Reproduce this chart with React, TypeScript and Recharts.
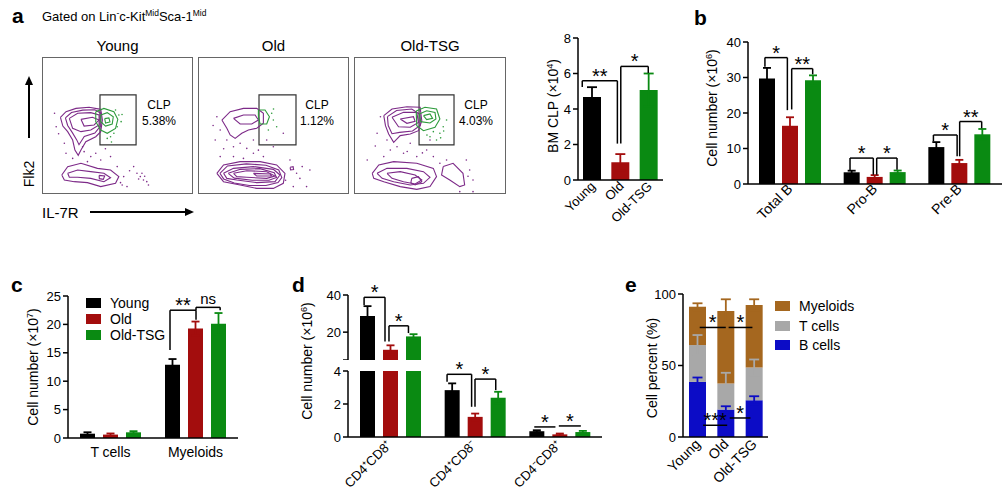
import React from "react";
import {
  ComposedChart,
  ScatterChart,
  Scatter,
  Bar,
  Cell,
  ErrorBar,
  XAxis,
  YAxis,
  ReferenceLine,
  ReferenceArea,
} from "recharts";

const FONT = '"Liberation Sans", Arial, Helvetica, sans-serif';
const BLACK = "#000000";
const RED = "#a30d0d";
const GREEN = "#0a8a12";
const BROWN = "#a5671f";
const GRAY = "#a8a8a8";
const BLUE = "#0c0cc6";
const PURPLE = "#7d2a88";
const LIGHT_GREEN = "#2e9b3c";

// a) BM CLP (x10^4)
const GROUPS = ["Young", "Old", "Old-TSG"];
const CLP_MEAN = [4.68, 1.0, 5.07];
const CLP_ERR = [0.55, 0.46, 0.93];

// b) B cell subsets (x10^6)
const B_CATS = ["Total B", "Pro-B", "Pre-B"];
const B_YOUNG = [29.7, 3.3, 10.4];
const B_YOUNG_ERR = [3.0, 0.45, 1.4];
const B_OLD = [16.4, 2.0, 5.9];
const B_OLD_ERR = [2.4, 0.5, 0.9];
const B_TSG = [29.2, 3.35, 14.0];
const B_TSG_ERR = [1.4, 0.45, 1.5];

// c) T cells / myeloids (x10^7)
const C_CATS = ["T cells", "Myeloids"];
const C_YOUNG = [0.76, 12.9];
const C_YOUNG_ERR = [0.25, 1.0];
const C_OLD = [0.6, 19.3];
const C_OLD_ERR = [0.2, 1.2];
const C_TSG = [1.0, 20.1];
const C_TSG_ERR = [0.2, 1.9];

// d) thymocytes (x10^6), broken axis
const D_CATS = ["CD4⁺CD8⁺", "CD4⁺CD8⁻", "CD4⁻CD8⁺"];
const D_YOUNG = [28.7, 2.84, 0.35];
const D_YOUNG_ERR = [5.3, 0.41, 0.06];
const D_OLD = [10.5, 1.22, 0.16];
const D_OLD_ERR = [2.4, 0.2, 0.05];
const D_TSG = [17.7, 2.38, 0.3];
const D_TSG_ERR = [1.2, 0.36, 0.07];

// e) cell percent (stacked)
const E_B = [38.5, 19.2, 25.7];
const E_B_ERR = [3.1, 2.3, 2.8];
const E_T = [25.8, 18.2, 22.9];
const E_T_ERR = [7.0, 7.5, 5.6];
const E_M = [26.8, 50.7, 43.7];
const E_M_ERR = [2.4, 8.2, 4.0];

// flow plots, 0..100 on both axes (IL-7R x, Flk2 y)
const Y_CONT = [
  [[12.2, 56], [15.9, 60.1], [22.5, 62.5], [31.2, 63.3], [38.9, 61.8], [40, 54], [38.9, 45.5], [35.6, 41.8], [29, 38.2], [25.8, 32.1], [24, 28.2], [21.8, 32.1], [20.3, 39.4], [17, 45.5], [13.8, 49.6]],
  [[15.5, 55.5], [19.5, 59.5], [27, 61.2], [35, 61.5], [39, 59], [39, 50], [35, 44.5], [28, 42], [24.5, 36], [23, 39.5], [20, 45], [17, 50]],
  [[18.1, 55.2], [23.6, 58.9], [32.3, 59.4], [37.8, 57.7], [37.8, 50.4], [32.3, 46.7], [25.8, 45.5], [20.3, 47.9]],
  [[25.8, 54.5], [33.4, 56], [37.8, 54], [34.5, 50.4], [27.9, 49.6]],
  [[13.1, 13.9], [17, 19.9], [25.8, 22.4], [36.7, 18.7], [45.4, 17.5], [50.9, 12.7], [48.7, 7.8], [38.9, 5.4], [30.1, 8.3], [21.4, 9], [14.8, 10.2]],
  [[17, 15.1], [23.6, 17.5], [32.3, 16.3], [41, 15.1], [45.4, 11.9], [41, 9], [32.3, 11.4], [23.6, 12.2], [18.1, 12.2]],
  [[37.8, 13.6], [41.5, 13.1], [40.6, 10.7], [38, 11.2]],
];
const Y_GCONT = [
  [[35.6, 60.1], [41, 62.5], [47.6, 60.1], [50.2, 54.5], [48.7, 47.9], [43.2, 44.3], [38.9, 46.7], [35.6, 52.8]],
  [[38.9, 57.7], [43.2, 59.4], [47.2, 56.4], [46.5, 51.1], [42.1, 49.6], [38.9, 52.8]],
  [[41.5, 55], [44.3, 55.5], [45, 52.6], [42.1, 51.8]],
];
const Y_DOTS = [[15.9, 29.7], [27.9, 30.9], [32.3, 27.3], [35.6, 29.7], [38.9, 24.8], [30.1, 23.6], [20.3, 26], [45.4, 27.3], [49.8, 20], [54.1, 12.7], [53.1, 6.6], [60.7, 20], [62.9, 15.1], [65.1, 12.7], [67.2, 10.2], [69.4, 9], [66.2, 15.1], [70.5, 6.6], [8.3, 58.9], [9.4, 49.1], [14.8, 37], [52, 8.3], [56.3, 5.4], [26.9, 34.5], [64, 11], [68, 13], [58, 17], [42, 33], [11, 44]];
const Y_GDOTS = [[48.7, 61.3], [50.9, 57.7], [47.6, 44.3], [45.4, 41.8], [49.8, 49.1], [43.2, 40.6], [52.4, 52.8], [53, 58], [46, 38]];

const O_CONT = [
  [[15.8, 54], [21.3, 60.1], [30.1, 62.5], [38.9, 62.5], [43.3, 58.9], [43.3, 51.6], [38.9, 48], [33.4, 46.7], [29, 44.3], [24.6, 40.6], [21.3, 43.1], [19.1, 48]],
  [[23.5, 55.2], [30.1, 57.7], [37.8, 57.7], [40, 54], [35.6, 51.1], [27.9, 51.1]],
  [[12.5, 15.1], [16.9, 21.2], [27.9, 23.6], [41.1, 23.6], [52.1, 21.2], [57.6, 15.1], [56.5, 7.8], [49.9, 4.1], [38.9, 4.1], [27.9, 6.6], [16.9, 9]],
  [[14.5, 15.1], [19.5, 20.5], [32, 22], [45, 21], [53.5, 17.5], [55.5, 12], [53, 8.3], [45, 6.2], [34, 6.2], [24, 8], [17, 11]],
  [[16.9, 15.1], [23.5, 18.7], [36.7, 20], [49.9, 18], [54.3, 13.9], [51, 9], [38.9, 8.3], [25.7, 10.2], [19.1, 11.4]],
  [[20, 15.1], [28, 18], [41, 18.5], [50.5, 15.5], [52, 12], [47, 10], [36, 10], [24, 11.6]],
  [[23.5, 15.1], [32.3, 17], [45.5, 16.3], [51, 13.1], [45.5, 11.4], [32.3, 12.2], [25.7, 12.7]],
  [[36.7, 15.1], [47.7, 14.6], [48.8, 13.1], [38.9, 13.1]],
  [[61, 19.5], [63, 20], [63.3, 17.8], [61.3, 17.6]],
];
const O_GCONT = [
  [[40, 61.3], [44.4, 61.3], [47.3, 56.4], [45.5, 51.1], [41.1, 51.1], [40, 56.4]],
];
const O_DOTS = [[12.5, 56.4], [14.7, 46.7], [19.1, 39.4], [23.5, 34.5], [27.9, 37], [32.3, 33.3], [36.7, 29.7], [23.5, 27.3], [14.7, 27.3], [45.5, 39.4], [49.9, 34.5], [43.3, 27.3], [56.5, 44.3], [60.9, 24.8], [65.3, 15.1], [67.5, 11.4], [71.9, 5.4], [63.1, 5.4], [74.1, 17.5], [11.4, 39.4], [30.1, 26], [36.7, 39.4], [17, 33], [40, 32], [58, 10], [69, 20], [10, 50]];
const O_GDOTS = [[48.8, 58.9], [49.9, 54], [46.6, 46.7], [52.1, 49.1], [50, 62]];

const T_CONT = [
  [[19.6, 57.2], [25, 62], [34.8, 63.7], [43.5, 63.3], [44.6, 53.5], [42.4, 46.2], [37, 43.8], [30.4, 42.6], [26.1, 37.7], [22.8, 43.8], [20.7, 49.9]],
  [[22, 56.5], [28, 61], [38, 62], [43.5, 58], [43.5, 50], [38.5, 46], [30, 45], [25, 44], [22.5, 50]],
  [[25, 56], [32.6, 59.6], [41.3, 59.6], [42.4, 52.3], [37, 48.7], [29.3, 49.1]],
  [[30.4, 54.7], [39.1, 56.4], [40.2, 53], [34.8, 51.6]],
  [[12, 15.1], [16.3, 21.2], [26.1, 23.6], [41.3, 22.4], [52.2, 18.7], [54.3, 12.7], [50, 5.4], [41.3, 3.4], [30.4, 5.4], [19.6, 9], [13, 11.4]],
  [[15.2, 15.1], [21.7, 18.7], [34.8, 18.7], [45.7, 16.3], [50, 12.2], [45.7, 7.8], [37, 6.6], [26.1, 9], [18.5, 11.4]],
  [[21.7, 15.1], [30.4, 16.3], [40.2, 13.9], [44.6, 10.2], [40.2, 7.3], [32.6, 9], [25, 11.4]],
  [[38, 11.4], [42.4, 12.7], [44.6, 9], [40.2, 6.6], [37.4, 8.3]],
  [[58.7, 20], [65.2, 22.4], [71.7, 15.1], [72.8, 6.6], [69.6, 5.4], [63, 10.2], [57.6, 13.9]],
];
const T_GCONT = [
  [[40.9, 60.6], [46.7, 63.3], [54.3, 62], [56.5, 54.7], [53.3, 48.7], [45.7, 46.2], [41.3, 49.9]],
  [[43, 58.4], [47.8, 60.8], [53.3, 59.6], [53.9, 54.7], [50, 51.8], [43.9, 52.8]],
  [[45.7, 57.2], [50, 58.4], [51.7, 55.2], [47.8, 54.3]],
];
const T_DOTS = [[17.4, 56.4], [15.2, 44.3], [21.7, 39.4], [23.9, 32.1], [28.3, 34.5], [32.6, 29.7], [37, 37], [19.6, 27.3], [41.3, 27.3], [47.8, 32.1], [52.2, 27.3], [56.5, 22.4], [60.9, 24.8], [73.9, 24.8], [76.1, 17.5], [78.3, 10.2], [69.6, 1.7], [78.3, 1.7], [8.7, 24.8], [50, 39.4], [14, 35], [35, 31], [45, 30], [75, 13]];
const T_GDOTS = [[52.2, 45.5], [56.5, 44.3], [58.7, 49.1], [50, 41.8], [60.9, 54], [54.3, 39.4], [57, 41], [48, 43], [59, 46]];

// significance brackets: x in category units (0..n across the plot), y in data units
const A_BRACKETS = [
  { x1: 0.15, y1: 5.24, x2: 1.39, y2: 2.05, top: 5.59, text: "**" },
  { x1: 1.51, y1: 2.05, x2: 2.48, y2: 6.03, top: 6.4, text: "*" },
];
const B_BRACKETS = [
  { x1: 0.2, y1: 33.0, x2: 0.465, y2: 20.8, top: 35.6, text: "*" },
  { x1: 0.516, y1: 21.0, x2: 0.764, y2: 30.9, top: 32.5, text: "**" },
  { x1: 1.205, y1: 3.9, x2: 1.48, y2: 2.6, top: 7.3, text: "*" },
  { x1: 1.52, y1: 2.6, x2: 1.76, y2: 4.0, top: 7.3, text: "*" },
  { x1: 2.19, y1: 12.0, x2: 2.47, y2: 7.8, top: 13.8, text: "*" },
  { x1: 2.5, y1: 7.8, x2: 2.76, y2: 15.7, top: 17.6, text: "**" },
];
const C_BRACKETS = [
  { x1: 1.2, y1: 15.5, x2: 1.506, y2: 20.8, top: 22.5, text: "**" },
  { x1: 1.506, y1: 22.5, x2: 1.79, y2: 22.5, top: 23.0, text: "ns" },
];
const D_UP_BRACKETS = [
  { x1: 0.19, y1: 34.6, x2: 0.437, y2: 15, top: 38.75, text: "*" },
  { x1: 0.484, y1: 15, x2: 0.714, y2: 19.5, top: 23.4, text: "*" },
];
const D_LOW_BRACKETS = [
  { x1: 1.17, y1: 3.35, x2: 1.46, y2: 1.83, top: 3.8, text: "*" },
  { x1: 1.5, y1: 1.83, x2: 1.745, y2: 2.84, top: 3.51, text: "*" },
  { x1: 2.2, y1: 0.61, x2: 2.45, y2: 0.61, top: 0.61, text: "*" },
  { x1: 2.49, y1: 0.67, x2: 2.75, y2: 0.67, top: 0.67, text: "*" },
];
const E_BRACKETS = [
  { x1: 0.59, y1: 76.6, x2: 1.51, y2: 76.6, top: 76.6, text: "*" },
  { x1: 1.61, y1: 76.6, x2: 2.45, y2: 76.6, top: 76.6, text: "*" },
  { x1: 0.71, y1: 8.2, x2: 1.56, y2: 8.2, top: 8.2, text: "***" },
  { x1: 1.65, y1: 13.3, x2: 2.38, y2: 13.3, top: 13.3, text: "*" },
];

function tripleRows(cats: string[], y: any[], ye: any[], o: any[], oe: any[], t: any[], te: any[]) {
  return cats.map((name, i) => ({
    name,
    young: y[i], youngErr: ye[i],
    old: o[i], oldErr: oe[i],
    tsg: t[i], tsgErr: te[i],
  }));
}

const aRows = GROUPS.map((name, i) => ({
  name,
  v: CLP_MEAN[i],
  e0: i === 0 ? CLP_ERR[i] : null,
  e1: i === 1 ? CLP_ERR[i] : null,
  e2: i === 2 ? CLP_ERR[i] : null,
}));
const bRows = tripleRows(B_CATS, B_YOUNG, B_YOUNG_ERR, B_OLD, B_OLD_ERR, B_TSG, B_TSG_ERR);
const cRows = tripleRows(C_CATS, C_YOUNG, C_YOUNG_ERR, C_OLD, C_OLD_ERR, C_TSG, C_TSG_ERR);
const hi = (a: number[], ref: number[]) => a.map((v, i) => (ref[i] >= 5 ? v : null));
const lo = (a: number[], ref: number[]) => a.map((v, i) => (ref[i] > 4 ? null : v));
const dUpRows = tripleRows(D_CATS, hi(D_YOUNG, D_YOUNG), hi(D_YOUNG_ERR, D_YOUNG), hi(D_OLD, D_OLD), hi(D_OLD_ERR, D_OLD), hi(D_TSG, D_TSG), hi(D_TSG_ERR, D_TSG));
const dLowRows = tripleRows(D_CATS, D_YOUNG, lo(D_YOUNG_ERR, D_YOUNG), D_OLD, lo(D_OLD_ERR, D_OLD), D_TSG, lo(D_TSG_ERR, D_TSG));
const eRows = GROUPS.map((name, i) => ({
  name,
  b: E_B[i], bErr: E_B_ERR[i],
  t: E_T[i], tErr: E_T_ERR[i],
  m: E_M[i], mErr: E_M_ERR[i],
}));

const pts = (a: number[][]) => a.map(([x, y]) => ({ x, y }));
const closed = (a: number[][]) => pts([...a, a[0]]);
const noDot = () => <g />;
const tinyDot = (color: string) => (p: any) => <circle cx={p.cx} cy={p.cy} r={0.8} fill={color} />;

const axisLine = { stroke: BLACK, strokeWidth: 1.5 };
const yAx = {
  width: 58,
  stroke: BLACK,
  axisLine,
  tickLine: { stroke: BLACK, strokeWidth: 1.5 },
  tickSize: 5,
  tick: { fontSize: 13, fill: BLACK },
};

function RotTick(props: any) {
  const { x, y, payload, ox = 0, oy = 0, size = 13 } = props;
  const px = x + ox;
  const py = y + oy;
  return (
    <text x={px} y={py} transform={`rotate(-45 ${px} ${py})`} textAnchor="end" fontSize={size} fill={BLACK}>
      {payload.value}
    </text>
  );
}

function FlatTick(props: any) {
  const { x, y, payload } = props;
  return (
    <text x={x} y={y + 19} textAnchor="middle" fontSize={14} fill={BLACK}>
      {payload.value}
    </text>
  );
}

type Br = { x1: number; y1: number; x2: number; y2: number; top: number; text: string };

// the helper axis "n" spans the row indices 0..n-1 over the plot width
function posAxis(n: number) {
  return <XAxis xAxisId="n" type="number" domain={[0, n - 1]} hide allowDataOverflow />;
}

function brackets(list: Br[], prefix: string, n: number) {
  const sx = (x: number) => (x * (n - 1)) / n;
  return list.flatMap((b, i) => {
    const common = { xAxisId: "n", stroke: BLACK, strokeWidth: 1.5, ifOverflow: "visible" as const };
    const isNs = b.text === "ns";
    return [
      <ReferenceLine key={`${prefix}${i}l`} {...common} segment={[{ x: sx(b.x1), y: b.y1 }, { x: sx(b.x1), y: b.top }]} />,
      <ReferenceLine
        key={`${prefix}${i}t`}
        {...common}
        segment={[{ x: sx(b.x1), y: b.top }, { x: sx(b.x2), y: b.top }]}
        label={{ value: b.text, position: "top", offset: isNs ? 3 : -2, fontSize: isNs ? 15 : 20, fill: BLACK }}
      />,
      <ReferenceLine key={`${prefix}${i}r`} {...common} segment={[{ x: sx(b.x2), y: b.y2 }, { x: sx(b.x2), y: b.top }]} />,
    ];
  });
}

function Txt({ x, y, size = 14, bold = false, center = false, children }: any) {
  return (
    <div
      style={{
        position: "absolute",
        left: x,
        top: y,
        fontSize: size,
        fontWeight: bold ? 700 : 400,
        lineHeight: 1,
        whiteSpace: "nowrap",
        transform: center ? "translate(-50%, -50%)" : "translateY(-50%)",
      }}
    >
      {children}
    </div>
  );
}

function VTitle({ x, y, children }: any) {
  return (
    <div
      style={{
        position: "absolute",
        left: x,
        top: y,
        fontSize: 14,
        lineHeight: 1,
        whiteSpace: "nowrap",
        transform: "translate(-50%, -50%) rotate(-90deg)",
      }}
    >
      {children}
    </div>
  );
}

const sup = { fontSize: "0.65em", verticalAlign: "0.55em" };

function Flow({ left, width, title, gate, cont, gcont, dots, gdots, pct, textX }: any) {
  return (
    <>
      <div style={{ position: "absolute", left, top: 57, width, height: 137 }}>
        <ScatterChart width={width} height={137} margin={{ top: 0, right: 0, bottom: 0, left: 0 }}>
          <XAxis type="number" dataKey="x" domain={[0, 100]} hide />
          <YAxis type="number" dataKey="y" domain={[0, 100]} hide />
          <Scatter data={pts(dots)} fill={PURPLE} shape={tinyDot(PURPLE)} isAnimationActive={false} />
          <Scatter data={pts(gdots)} fill={LIGHT_GREEN} shape={tinyDot(LIGHT_GREEN)} isAnimationActive={false} />
          {cont.map((c: number[][], i: number) => (
            <Scatter key={`p${i}`} data={closed(c)} fill={PURPLE} line={{ stroke: PURPLE, strokeWidth: 1.1 }} lineType="joint" shape={noDot} isAnimationActive={false} />
          ))}
          {gcont.map((c: number[][], i: number) => (
            <Scatter key={`g${i}`} data={closed(c)} fill={LIGHT_GREEN} line={{ stroke: LIGHT_GREEN, strokeWidth: 1.1 }} lineType="joint" shape={noDot} isAnimationActive={false} />
          ))}
          <ReferenceArea x1={gate[0]} x2={gate[1]} y1={gate[2]} y2={gate[3]} fill="none" stroke="#333" strokeWidth={1.2} ifOverflow="visible" />
        </ScatterChart>
      </div>
      <div style={{ position: "absolute", left, top: 57, width, height: 137, boxSizing: "border-box", border: "1.5px solid #666" }} />
      <Txt x={left + width / 2} y={45} size={15} center>{title}</Txt>
      <Txt x={textX} y={105} size={12} center>CLP</Txt>
      <Txt x={textX} y={121} size={12} center>{pct}</Txt>
    </>
  );
}

function LegendBox({ x, y, color, label }: any) {
  return (
    <>
      <div style={{ position: "absolute", left: x, top: y - 5, width: 15, height: 10, background: color }} />
      <Txt x={x + 24} y={y} size={14}>{label}</Txt>
    </>
  );
}

export default function App() {
  const triple = (size: number) => [
    <Bar key="y" dataKey="young" fill={BLACK} barSize={size} isAnimationActive={false}>
      <ErrorBar dataKey="youngErr" direction="y" width={4} stroke={BLACK} strokeWidth={1.8} />
    </Bar>,
    <Bar key="o" dataKey="old" fill={RED} barSize={size} isAnimationActive={false}>
      <ErrorBar dataKey="oldErr" direction="y" width={4} stroke={RED} strokeWidth={1.8} />
    </Bar>,
    <Bar key="t" dataKey="tsg" fill={GREEN} barSize={size} isAnimationActive={false}>
      <ErrorBar dataKey="tsgErr" direction="y" width={4} stroke={GREEN} strokeWidth={1.8} />
    </Bar>,
  ];
  return (
    <div
      style={{
        position: "fixed",
        left: 0,
        top: 0,
        width: 1008,
        height: 502,
        background: "#fff",
        overflow: "hidden",
        fontFamily: FONT,
        color: BLACK,
      }}
    >
      {/* panel a: flow plots */}
      <Flow left={42} width={151} title="Young" gate={[38.4, 62.3, 35.8, 72.3]} cont={Y_CONT} gcont={Y_GCONT} dots={Y_DOTS} gdots={Y_GDOTS} pct="5.38%" textX={159} />
      <Flow left={198} width={151} title="Old" gate={[40.4, 64.9, 35.8, 72.3]} cont={O_CONT} gcont={O_GCONT} dots={O_DOTS} gdots={O_GDOTS} pct="1.12%" textX={317} />
      <Flow left={354} width={152} title="Old-TSG" gate={[42.8, 65.8, 35.8, 72.3]} cont={T_CONT} gcont={T_GCONT} dots={T_DOTS} gdots={T_GDOTS} pct="4.03%" textX={476} />
      <svg style={{ position: "absolute", left: 0, top: 0 }} width={1008} height={502}>
        <line x1={29} y1={138} x2={29} y2={84} stroke={BLACK} strokeWidth={2} />
        <path d="M25,85 L29,76 L33,85 Z" fill={BLACK} />
        <line x1={90} y1={212} x2={186} y2={212} stroke={BLACK} strokeWidth={2} />
        <path d="M185,208 L194,212 L185,216 Z" fill={BLACK} />
      </svg>

      {/* panel a: BM CLP */}
      <div style={{ position: "absolute", left: 520, top: 20 }}>
        <ComposedChart width={160} height={232} data={aRows} margin={{ top: 18, right: 17, bottom: 0, left: 0 }}>
          <XAxis dataKey="name" height={72} interval={0} tickLine={false} tickSize={0} tickMargin={0} axisLine={axisLine} tick={(p: any) => <RotTick {...p} ox={4} oy={7} size={13} />} />
          {posAxis(3)}
          <YAxis domain={[0, 8]} ticks={[0, 2, 4, 6, 8]} {...yAx} />
          <Bar dataKey="v" barSize={18} isAnimationActive={false}>
            {aRows.map((r, i) => (
              <Cell key={r.name} fill={[BLACK, RED, GREEN][i]} />
            ))}
            <ErrorBar dataKey="e0" direction="y" width={5} stroke={BLACK} strokeWidth={1.8} />
            <ErrorBar dataKey="e1" direction="y" width={5} stroke={RED} strokeWidth={1.8} />
            <ErrorBar dataKey="e2" direction="y" width={5} stroke={GREEN} strokeWidth={1.8} />
          </Bar>
          {brackets(A_BRACKETS, "a", 3)}
        </ComposedChart>
      </div>

      {/* panel b */}
      <div style={{ position: "absolute", left: 690, top: 20 }}>
        <ComposedChart width={318} height={240} data={bRows} margin={{ top: 22, right: 6, bottom: 0, left: 0 }} barGap={7}>
          <XAxis dataKey="name" height={76} interval={0} tickLine={false} tickSize={0} tickMargin={0} axisLine={axisLine} tick={(p: any) => <RotTick {...p} ox={3} oy={6} size={14} />} />
          {posAxis(3)}
          <YAxis domain={[0, 40]} ticks={[0, 10, 20, 30, 40]} {...yAx} />
          {triple(16)}
          {brackets(B_BRACKETS, "b", 3)}
        </ComposedChart>
      </div>

      {/* panel c */}
      <div style={{ position: "absolute", left: 10, top: 280 }}>
        <ComposedChart width={230} height={190} data={cRows} margin={{ top: 16, right: 2, bottom: 0, left: 0 }} barGap={8}>
          <XAxis dataKey="name" height={32} interval={0} tickLine={false} tickSize={0} tickMargin={0} axisLine={axisLine} tick={FlatTick} />
          {posAxis(2)}
          <YAxis domain={[0, 25]} ticks={[0, 5, 10, 15, 20, 25]} {...yAx} />
          {triple(15)}
          {brackets(C_BRACKETS, "c", 2)}
        </ComposedChart>
      </div>
      <LegendBox x={86} y={303} color={BLACK} label="Young" />
      <LegendBox x={86} y={319} color={RED} label="Old" />
      <LegendBox x={86} y={335} color={GREEN} label="Old-TSG" />

      {/* panel d: broken axis, upper part (5..40) */}
      <div style={{ position: "absolute", left: 290, top: 275 }}>
        <ComposedChart width={318} height={85} data={dUpRows} margin={{ top: 20, right: 6, bottom: 0, left: 0 }} barGap={8}>
          <XAxis dataKey="name" hide />
          {posAxis(3)}
          <YAxis domain={[5, 40]} ticks={[5, 10, 20, 30, 40]} tickFormatter={(v: number) => (v === 5 ? "" : String(v))} allowDataOverflow {...yAx} />
          {triple(15)}
          {brackets(D_UP_BRACKETS, "du", 3)}
        </ComposedChart>
      </div>
      {/* panel d: lower part (0..4) */}
      <div style={{ position: "absolute", left: 290, top: 351 }}>
        <ComposedChart width={318} height={156} data={dLowRows} margin={{ top: 20, right: 6, bottom: 0, left: 0 }} barGap={8}>
          <XAxis dataKey="name" height={70} interval={0} tickLine={false} tickSize={0} tickMargin={0} axisLine={axisLine} tick={(p: any) => <RotTick {...p} ox={2} oy={9} size={13} />} />
          {posAxis(3)}
          <YAxis domain={[0, 4]} ticks={[0, 2, 4]} allowDataOverflow {...yAx} />
          {triple(15)}
          {brackets(D_LOW_BRACKETS, "dl", 3)}
        </ComposedChart>
      </div>

      {/* panel e */}
      <div style={{ position: "absolute", left: 625, top: 280 }}>
        <ComposedChart width={145} height={227} data={eRows} margin={{ top: 14, right: 2, bottom: 0, left: 0 }}>
          <XAxis dataKey="name" height={70} interval={0} tickLine={false} tickSize={0} tickMargin={0} axisLine={axisLine} tick={(p: any) => <RotTick {...p} ox={4} oy={8} size={14} />} />
          <YAxis domain={[0, 100]} ticks={[0, 50, 100]} {...yAx} />
          <Bar dataKey="b" stackId="s" fill={BLUE} barSize={17} isAnimationActive={false} />
          <Bar dataKey="t" stackId="s" fill={GRAY} barSize={17} isAnimationActive={false} />
          <Bar dataKey="m" stackId="s" fill={BROWN} barSize={17} isAnimationActive={false} />
        </ComposedChart>
      </div>
      {/* overlay: error bars and significance lines above all stacked segments */}
      <div style={{ position: "absolute", left: 625, top: 280 }}>
        <ComposedChart width={145} height={227} data={eRows} margin={{ top: 14, right: 2, bottom: 0, left: 0 }}>
          <XAxis dataKey="name" height={70} axisLine={false} tickLine={false} tick={false} />
          {posAxis(3)}
          <YAxis domain={[0, 100]} width={58} axisLine={false} tickLine={false} tick={false} />
          <Bar dataKey="b" stackId="s" fill="none" barSize={17} isAnimationActive={false}>
            <ErrorBar dataKey="bErr" direction="y" width={5} stroke={BLUE} strokeWidth={1.8} />
          </Bar>
          <Bar dataKey="t" stackId="s" fill="none" barSize={17} isAnimationActive={false}>
            <ErrorBar dataKey="tErr" direction="y" width={5} stroke={GRAY} strokeWidth={1.8} />
          </Bar>
          <Bar dataKey="m" stackId="s" fill="none" barSize={17} isAnimationActive={false}>
            <ErrorBar dataKey="mErr" direction="y" width={5} stroke={BROWN} strokeWidth={1.8} />
          </Bar>
          {brackets(E_BRACKETS, "e", 3)}
        </ComposedChart>
      </div>
      <LegendBox x={775} y={306} color={BROWN} label="Myeloids" />
      <LegendBox x={775} y={326} color={GRAY} label="T cells" />
      <LegendBox x={775} y={345} color={BLUE} label="B cells" />

      {/* titles and panel letters on top */}
      <Txt x={12} y={15} size={21} bold>a</Txt>
      <Txt x={42} y={16} size={13}>
        Gated on Lin<span style={sup}>-</span>c-Kit<span style={sup}>Mid</span>Sca-1<span style={sup}>Mid</span>
      </Txt>
      <VTitle x={29} y={174}>Flk2</VTitle>
      <Txt x={42} y={212} size={15}>IL-7R</Txt>
      <VTitle x={553} y={106}>
        BM CLP (×10<span style={sup}>4</span>)
      </VTitle>
      <Txt x={694} y={17} size={21} bold>b</Txt>
      <VTitle x={712} y={108}>
        Cell number (×10<span style={sup}>6</span>)
      </VTitle>
      <Txt x={11} y={284} size={21} bold>c</Txt>
      <VTitle x={33} y={367}>
        Cell number (×10<span style={sup}>7</span>)
      </VTitle>
      <Txt x={292} y={284} size={21} bold>d</Txt>
      <VTitle x={307} y={361}>
        Cell number (×10<span style={sup}>6</span>)
      </VTitle>
      <Txt x={625} y={284} size={21} bold>e</Txt>
      <VTitle x={652} y={368}>Cell percent (%)</VTitle>
    </div>
  );
}
